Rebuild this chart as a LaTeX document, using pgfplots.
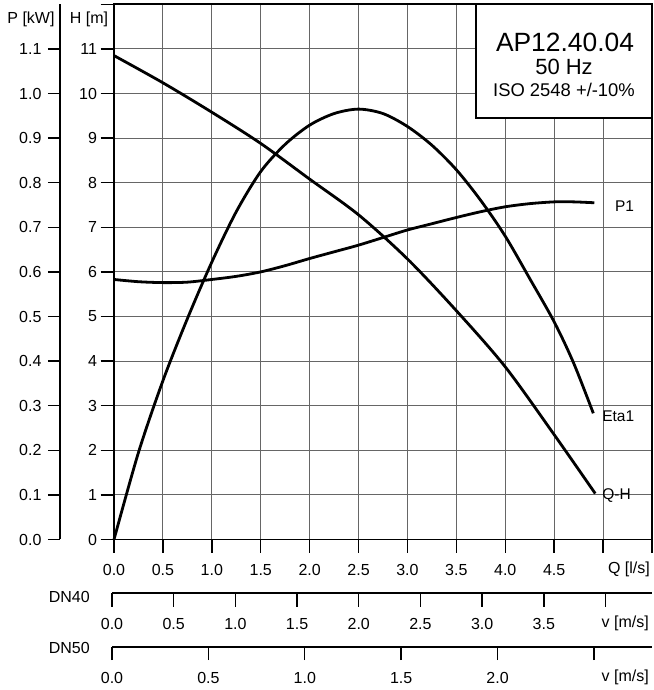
\documentclass[border=0pt]{standalone}
\usepackage{fontspec}
\setmainfont{Liberation Sans}
\usepackage{pgfplots}
\pgfplotsset{compat=1.18}
\usepackage{pgfplotstable}

\pgfplotstableread{
Q H
0 10.85
0.5 10.24
1.0 9.58
1.5 8.88
2.0 8.08
2.5 7.28
3.0 6.29
3.5 5.13
4.0 3.87
4.5 2.35
4.92 1.03
}\qh

\pgfplotstableread{
Q E
0 0
0.25 1.95
0.5 3.56
0.75 4.95
1.0 6.22
1.25 7.35
1.5 8.25
1.75 8.86
2.0 9.29
2.25 9.55
2.5 9.65
2.75 9.55
3.0 9.26
3.25 8.84
3.5 8.29
3.75 7.6
4.0 6.8
4.25 5.85
4.5 4.88
4.7 3.95
4.9 2.83
}\eta

\pgfplotstableread{
Q P
0 0.583
0.25 0.578
0.5 0.576
0.75 0.577
1.0 0.583
1.25 0.590
1.5 0.600
1.75 0.614
2.0 0.630
2.25 0.645
2.5 0.660
2.75 0.677
3.0 0.694
3.25 0.708
3.5 0.722
3.75 0.735
4.0 0.746
4.25 0.753
4.5 0.757
4.7 0.757
4.91 0.755
}\pone

\newcommand{\tf}{\fontsize{16bp}{19bp}\selectfont}

\begin{document}
\begin{tikzpicture}
\path[use as bounding box] (0,0) rectangle (654bp,690bp);

% main axis
\begin{axis}[
  at={(114bp,150.5bp)}, anchor=south west,
  scale only axis, width=538bp, height=535.2bp,
  xmin=0, xmax=5.5, ymin=0, ymax=12,
  xtick={0,0.5,1,1.5,2,2.5,3,3.5,4,4.5,5,5.5},
  ytick={0,1,2,3,4,5,6,7,8,9,10,11,12},
  xticklabels={0.0,0.5,1.0,1.5,2.0,2.5,3.0,3.5,4.0,4.5,{},{}},
  yticklabels={0,1,2,3,4,5,6,7,8,9,10,11,{}},
  xtick pos=bottom, ytick pos=left, tick align=outside,
  major tick length=13.5bp,
  tick style={black, line width=1.4bp},
  grid=major, major grid style={black!60, line width=0.9bp},
  axis line style={line width=1.6bp},
  ticklabel style={font=\tf},
  xticklabel style={yshift=-8bp},
  /pgf/number format/assume math mode=true,
  clip=false,
]
\addplot[black, line width=2.8bp, smooth] table[x=Q, y=H] {\qh};
\addplot[black, line width=2.8bp, smooth] table[x=Q, y=E] {\eta};
\addplot[black, line width=2.8bp, smooth] table[x=Q, y expr=10*\thisrow{P}] {\pone};
\node[anchor=west, inner sep=0pt, font=\fontsize{15.5bp}{18bp}\selectfont] at (axis cs:5.12,7.48) {P1};
\node[anchor=west, inner sep=0pt, font=\fontsize{15.5bp}{18bp}\selectfont] at (axis cs:4.99,2.77) {Eta1};
\node[anchor=west, inner sep=0pt, font=\fontsize{15.5bp}{18bp}\selectfont] at (axis cs:4.99,0.975) {Q-H};
\end{axis}

% P axis
\begin{axis}[
  at={(60bp,150.5bp)}, anchor=south west,
  scale only axis, width=10bp, height=535.2bp,
  xmin=0, xmax=1, ymin=0, ymax=1.2,
  hide x axis,
  axis y line*=left,
  y axis line style={-, line width=1.6bp},
  ytick={0,0.1,0.2,0.3,0.4,0.5,0.6,0.7,0.8,0.9,1.0,1.1},
  yticklabels={0.0,0.1,0.2,0.3,0.4,0.5,0.6,0.7,0.8,0.9,1.0,1.1},
  ytick pos=left, tick align=outside, major tick length=12bp,
  tick style={black, line width=1.4bp},
  ticklabel style={font=\tf},
  yticklabel style={xshift=-3bp},
  /pgf/number format/assume math mode=true,
]
\end{axis}

% DN40 scale
\begin{axis}[
  at={(112bp,97bp)}, anchor=south west,
  scale only axis, width=540bp, height=10bp,
  xmin=0, xmax=4.3768, ymin=0, ymax=1,
  axis x line=bottom, axis y line=none,
  x axis line style={-, line width=1.6bp},
  xtick={0,0.5,1,1.5,2,2.5,3,3.5,4},
  xticklabels={0.0,0.5,1.0,1.5,2.0,2.5,3.0,3.5,{}},
  tick align=outside, major tick length=14bp,
  tick style={black, line width=1.4bp},
  ticklabel style={font=\tf},
  xticklabel style={yshift=-8bp},
  /pgf/number format/assume math mode=true,
]
\end{axis}

% DN50 scale
\begin{axis}[
  at={(112bp,43bp)}, anchor=south west,
  scale only axis, width=540bp, height=10bp,
  xmin=0, xmax=2.8011, ymin=0, ymax=1,
  axis x line=bottom, axis y line=none,
  x axis line style={-, line width=1.6bp},
  xtick={0,0.5,1,1.5,2,2.5},
  xticklabels={0.0,0.5,1.0,1.5,2.0,{}},
  tick align=outside, major tick length=13bp,
  tick style={black, line width=1.4bp},
  ticklabel style={font=\tf},
  xticklabel style={yshift=-9bp},
  /pgf/number format/assume math mode=true,
]
\end{axis}

% title box
\draw[fill=white, line width=1.4bp] (476bp,572bp) rectangle (652bp,685.7bp);
\node[inner sep=0pt, font=\fontsize{26.4bp}{30bp}\selectfont] at (565bp,647.5bp) {AP12.40.04};
\node[inner sep=0pt, font=\fontsize{22bp}{26bp}\selectfont] at (564bp,623bp) {50 Hz};
\node[inner sep=0pt, font=\fontsize{18.4bp}{22bp}\selectfont] at (564bp,600bp) {ISO 2548 +/-10\%};

% axis titles
\node[inner sep=0pt, font=\tf] at (31bp,671bp) {P [kW]};
\node[inner sep=0pt, font=\tf] at (89bp,671bp) {H [m]};
\node[anchor=east, inner sep=0pt, font=\tf] at (650bp,121bp) {Q [l/s]};
\node[anchor=east, inner sep=0pt, font=\tf] at (649bp,67bp) {v [m/s]};
\node[anchor=east, inner sep=0pt, font=\tf] at (649bp,13bp) {v [m/s]};
\node[anchor=east, inner sep=0pt, font=\tf] at (90bp,93bp) {DN40};
\node[anchor=east, inner sep=0pt, font=\tf] at (90bp,42bp) {DN50};
\end{tikzpicture}
\end{document}
